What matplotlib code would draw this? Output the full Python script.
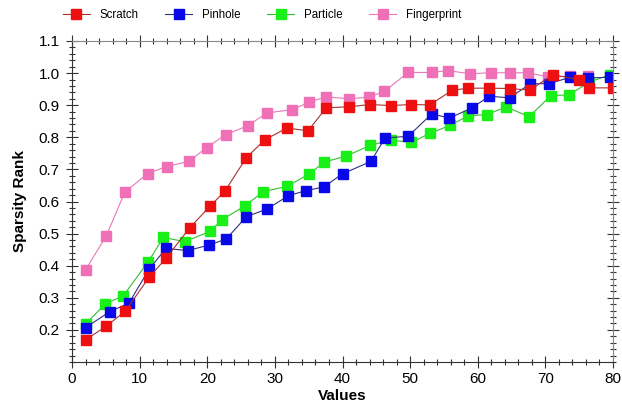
import numpy as np
import matplotlib
matplotlib.use("Agg")
import matplotlib.pyplot as plt
from matplotlib.ticker import MultipleLocator

plt.rcParams['font.family'] = ['Liberation Sans', 'DejaVu Sans']

# values
scratch_x = [2.0, 5.1, 7.9, 11.4, 13.9, 17.4, 20.4, 22.6, 25.8, 28.5, 31.8, 34.9, 37.6, 40.9,
             44.0, 47.1, 50.2, 52.9, 56.2, 58.5, 61.7, 64.7, 67.7, 71.1, 74.9, 76.5, 80.0]
scratch_y = [0.169, 0.212, 0.259, 0.364, 0.423, 0.518, 0.585, 0.632, 0.737, 0.792, 0.829, 0.820, 0.892, 0.895,
             0.902, 0.899, 0.902, 0.901, 0.946, 0.953, 0.953, 0.952, 0.947, 0.995, 0.980, 0.954, 0.954]

pinhole_x = [2.0, 5.6, 8.4, 11.4, 13.9, 17.1, 20.2, 22.8, 25.8, 28.8, 32.0, 34.6, 37.2, 40.0,
             44.2, 46.3, 49.7, 53.2, 55.8, 59.1, 61.7, 64.7, 67.8, 70.5, 73.7, 76.3, 79.6]
pinhole_y = [0.207, 0.257, 0.283, 0.389, 0.454, 0.447, 0.464, 0.483, 0.553, 0.576, 0.618, 0.634, 0.645, 0.686,
             0.725, 0.798, 0.803, 0.873, 0.860, 0.891, 0.928, 0.923, 0.967, 0.967, 0.987, 0.985, 0.987]

particle_x = [2.0, 4.9, 7.6, 11.3, 13.5, 16.7, 20.4, 22.2, 25.6, 28.3, 31.8, 35.1, 37.3, 40.5,
              44.1, 47.2, 50.2, 52.9, 55.9, 58.6, 61.4, 64.2, 67.6, 70.8, 73.5, 76.5, 79.6]
particle_y = [0.219, 0.280, 0.307, 0.413, 0.488, 0.475, 0.507, 0.543, 0.587, 0.631, 0.647, 0.686, 0.723, 0.741,
              0.775, 0.791, 0.784, 0.812, 0.837, 0.867, 0.871, 0.895, 0.864, 0.930, 0.932, 0.972, 0.995]

finger_x = [2.0, 5.1, 7.8, 11.2, 14.0, 17.3, 19.9, 22.7, 26.0, 28.8, 32.6, 35.0, 37.5, 41.0,
            43.9, 46.2, 49.7, 53.2, 55.6, 58.8, 61.9, 64.7, 67.5, 70.4, 73.6, 76.3]
finger_y = [0.387, 0.494, 0.629, 0.687, 0.709, 0.725, 0.768, 0.808, 0.836, 0.876, 0.886, 0.909, 0.926, 0.920,
            0.925, 0.943, 1.002, 1.002, 1.008, 0.998, 1.001, 1.001, 1.001, 0.988, 0.990, 0.990]

fig = plt.figure(figsize=(6.22, 4.13), dpi=100)
ax = fig.add_axes([72/622, 51/413, 541/622, 321/413])

# series: label, x, y, line colour, marker colour
series = [
    ("Fingerprint", finger_x, finger_y, "#e878b8", "#f070b8"),
    ("Particle", particle_x, particle_y, "#30c030", "#18f018"),
    ("Pinhole", pinhole_x, pinhole_y, "#303080", "#0808e8"),
    ("Scratch", scratch_x, scratch_y, "#a83030", "#ee1010"),
]
handles = {}
for name, xs, ys, lc, mc in series:
    h, = ax.plot(xs, ys, color=lc, lw=0.8, marker='s', ms=6.5,
                 mfc=mc, mec=mc, label=name)
    handles[name] = h

ax.set_xlim(0, 80)
ax.set_ylim(0.1, 1.1)
ax.xaxis.set_major_locator(MultipleLocator(10))
ax.xaxis.set_minor_locator(MultipleLocator(2))
ax.yaxis.set_minor_locator(MultipleLocator(0.02))
ax.yaxis.set_major_formatter(matplotlib.ticker.FormatStrFormatter('%.1f'))
ax.set_yticks(np.arange(0.2, 1.11, 0.1))

ax.tick_params(which='both', direction='inout', colors='#333333', labelcolor='black', labelsize=11)
ax.tick_params(which='major', length=8, width=0.8)
ax.tick_params(which='minor', length=5, width=0.8)
ax.tick_params(which='both', top=True, right=True)
ax.tick_params(axis='y', pad=5)
for s in ['left', 'bottom']:
    ax.spines[s].set_color('#333333')
for s in ['top', 'right']:
    ax.spines[s].set_color('#888888')

ax.set_xlabel("Values", fontsize=11, fontweight='bold', labelpad=2)
ax.set_ylabel("Sparsity Rank", fontsize=11, fontweight='bold', labelpad=8)

order = ["Scratch", "Pinhole", "Particle", "Fingerprint"]
fig.legend([handles[n] for n in order], order, loc='center left',
           bbox_to_anchor=(63/622, 1 - 15/413), ncol=4, frameon=False,
           fontsize=8.3, handlelength=2.3, handletextpad=0.9, columnspacing=2.3,
           borderaxespad=0, borderpad=0)

fig.savefig("out.png", dpi=100)
